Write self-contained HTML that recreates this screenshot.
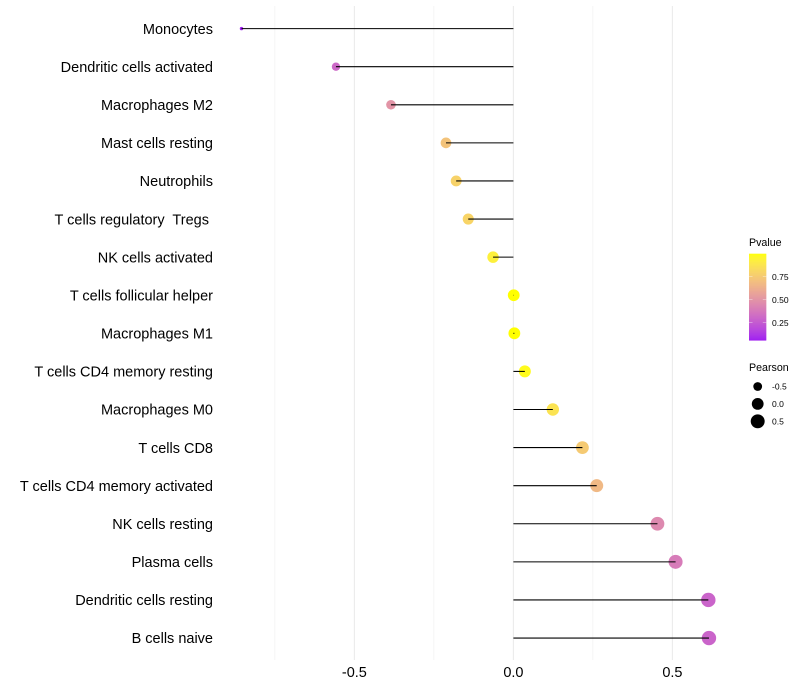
<!DOCTYPE html>
<html lang="en">
<head>
<meta charset="utf-8">
<title>Lollipop chart</title>
<style>
html,body{margin:0;padding:0;background:#fff;width:800px;height:700px;overflow:hidden}
svg{display:block;font-family:"Liberation Sans",sans-serif}
text{white-space:pre}
</style>
</head>
<body>
<svg id="chart" xmlns="http://www.w3.org/2000/svg" width="800" height="700" viewBox="0 0 800 700"></svg>
<script>
const categories = ["Monocytes","Dendritic cells activated","Macrophages M2","Mast cells resting","Neutrophils","T cells regulatory  Tregs ","NK cells activated","T cells follicular helper","Macrophages M1","T cells CD4 memory resting","Macrophages M0","T cells CD8","T cells CD4 memory activated","NK cells resting","Plasma cells","Dendritic cells resting","B cells naive"];
const pearson = [-0.855,-0.558,-0.385,-0.212,-0.18,-0.142,-0.064,0.001,0.003,0.036,0.124,0.217,0.262,0.453,0.51,0.613,0.615];
const pvalue = [0.06,0.31,0.50,0.72,0.79,0.80,0.93,1.0,1.0,0.98,0.87,0.75,0.67,0.45,0.39,0.29,0.29];
const xMajorTicks = [-0.5,0,0.5];
const xMajorLabels = ["-0.5","0.0","0.5"];
const xMinorTicks = [-0.75,-0.25,0.25];
const colorTicks = [0.25,0.5,0.75];
const colorLabels = ["0.25","0.50","0.75"];
const sizeTicks = [-0.5,0,0.5];
const sizeLabels = ["-0.5","0.0","0.5"];
const pRange = [0.06,1.0];
const sizeDomain = [-0.855,0.615];

const svg = document.getElementById('chart');
const NS = 'http://www.w3.org/2000/svg';
function mk(tag, attrs, parent){
  const e = document.createElementNS(NS, tag);
  for (const k in attrs) e.setAttribute(k, attrs[k]);
  (parent || svg).appendChild(e);
  return e;
}
function xScale(v){ return 513.4 + v * 318; }
function yScale(i){ return 28.6 + i * 38.09; }
function radius(v){
  const t = Math.max(0, (v - sizeDomain[0]) / (sizeDomain[1] - sizeDomain[0]));
  return 1.7 + 5.5 * Math.sqrt(t);
}

function srgb2lin(c){ c/=255; return c<=0.04045 ? c/12.92 : Math.pow((c+0.055)/1.055,2.4); }
function lin2srgb(c){ c = c<=0.0031308 ? 12.92*c : 1.055*Math.pow(c,1/2.4)-0.055; return Math.round(Math.min(1,Math.max(0,c))*255); }
function rgb2lab(r,g,b){
  const R=srgb2lin(r),G=srgb2lin(g),B=srgb2lin(b);
  const f=t=>t>0.008856?Math.cbrt(t):7.787*t+16/116;
  const X=f((0.4124*R+0.3576*G+0.1805*B)/0.95047),Y=f(0.2126*R+0.7152*G+0.0722*B),Z=f((0.0193*R+0.1192*G+0.9505*B)/1.08883);
  return [116*Y-16,500*(X-Y),200*(Y-Z)];
}
function lab2rgb(L,a,b){
  const fy=(L+16)/116,fx=a/500+fy,fz=fy-b/200;
  const g=t=>t*t*t>0.008856?t*t*t:(t-16/116)/7.787;
  const X=g(fx)*0.95047,Y=g(fy),Z=g(fz)*1.08883;
  const r=3.2406*X-1.5372*Y-0.4986*Z,gg=-0.9689*X+1.8758*Y+0.0415*Z,bb=0.0557*X-0.204*Y+1.057*Z;
  return 'rgb('+lin2srgb(r)+','+lin2srgb(gg)+','+lin2srgb(bb)+')';
}
const labLow = rgb2lab(160,32,240);
const labHigh = rgb2lab(255,255,0);
function colorOf(p){
  const t = Math.min(1,Math.max(0,(p-pRange[0])/(pRange[1]-pRange[0])));
  return lab2rgb(labLow[0]+(labHigh[0]-labLow[0])*t,labLow[1]+(labHigh[1]-labLow[1])*t,labLow[2]+(labHigh[2]-labLow[2])*t);
}

const gridGroup = mk('g',{});


xMinorTicks.forEach(function(v){
  const l = mk('line',{x1:xScale(v),x2:xScale(v),y1:6,y2:660,stroke:'#ebebeb','stroke-width':0.55},gridGroup);
  
  
});
xMajorTicks.forEach(function(v){
  const l = mk('line',{x1:xScale(v),x2:xScale(v),y1:6,y2:660,stroke:'#ebebeb','stroke-width':1.07},gridGroup);
  
  
});

const pointGroup = mk('g',{});


pearson.forEach(function(v,i){
  const c = mk('circle',{cx:xScale(v),cy:yScale(i),r:radius(v),fill:colorOf(pvalue[i])},pointGroup);
  
  
});
const segGroup = mk('g',{});


pearson.forEach(function(v,i){
  const l = mk('line',{x1:xScale(0),x2:xScale(v),y1:yScale(i),y2:yScale(i),stroke:'#000','stroke-width':1.07},segGroup);
  
  
});

categories.forEach(function(name,i){
  const t = mk('text',{x:213,y:yScale(i)+5.2,'text-anchor':'end','font-size':14.5,fill:'#000'});
  t.textContent = name;
  
  
});
xMajorTicks.forEach(function(v,i){
  const t = mk('text',{x:xScale(v),y:677,'text-anchor':'middle','font-size':14.5,fill:'#000'});
  t.textContent = xMajorLabels[i];
  
  
});

const pvTitle = mk('text',{x:749,y:246,'font-size':10.67,fill:'#000'});
pvTitle.textContent = 'Pvalue';


function barY(p){ return 276.7 + (0.75 - p) * 92; }
const bar = mk('g',{});


const barTop = barY(pRange[1]);
const barBottom = barY(pRange[0]);
const barSteps = 87;
for (let s = 0; s < barSteps; s++){
  const p = pRange[1] - (pRange[1]-pRange[0]) * (s+0.5) / barSteps;
  mk('rect',{x:749,y:barTop+(barBottom-barTop)*s/barSteps,width:17.3,height:(barBottom-barTop)/barSteps+0.4,fill:colorOf(p)},bar);
}
colorTicks.forEach(function(p,i){
  const y = barY(p);
  mk('line',{x1:749,x2:752.5,y1:y,y2:y,stroke:'#fff','stroke-opacity':0.6,'stroke-width':0.6},bar);
  mk('line',{x1:762.8,x2:766.3,y1:y,y2:y,stroke:'#fff','stroke-opacity':0.6,'stroke-width':0.6},bar);
  const t = mk('text',{x:772,y:y+3.1,'font-size':8.53,fill:'#000'});
  t.textContent = colorLabels[i];
  
  
});

const szTitle = mk('text',{x:749,y:371,'font-size':10.67,fill:'#000'});
szTitle.textContent = 'Pearson';


sizeTicks.forEach(function(v,i){
  const y = 386.5 + i * 17.4;
  const c = mk('circle',{cx:757.7,cy:y,r:radius(v),fill:'#000'});
  
  
  const t = mk('text',{x:772,y:y+3.1,'font-size':8.53,fill:'#000'});
  t.textContent = sizeLabels[i];
  
  
});
</script>
</body>
</html>
